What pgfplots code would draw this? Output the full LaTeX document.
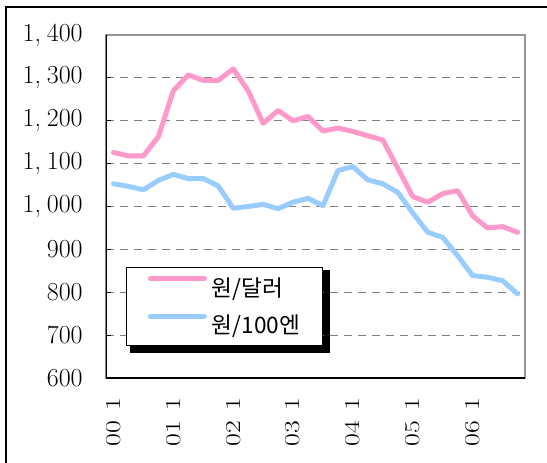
\documentclass[border=0pt]{standalone}
\usepackage{fontspec}
\usepackage{pgfplots}
\pgfplotsset{compat=1.18}
\usetikzlibrary{backgrounds}
\newfontfamily\cjk{Noto Sans CJK KR}
\definecolor{pinkline}{RGB}{255,153,204}
\definecolor{blueline}{RGB}{153,204,255}
\definecolor{gridgray}{RGB}{128,128,128}
\definecolor{boxgray}{RGB}{150,150,150}
\newcommand{\cs}{,\hspace{0.22em}}
\newcommand{\xl}[1]{\scalebox{1.31}[1]{\fontsize{16}{16}\selectfont #1\hspace{0.38em}1}}
\begin{document}
\begin{tikzpicture}
\begin{axis}[
  at={(79.5pt,63pt)}, anchor=south west,
  scale only axis, width=314.25pt, height=257.25pt,
  xmin=-0.5, xmax=27.5, ymin=600, ymax=1400,
  axis line style={draw=boxgray, line width=1.3pt},
  xtick={0,4,8,12,16,20,24},
  xticklabels={\xl{00},\xl{01},\xl{02},\xl{03},\xl{04},\xl{05},\xl{06}},
  major x tick style={draw=none},
  extra x ticks={-0.5,0.5,...,27.5},
  extra x tick labels={},
  extra x tick style={tick style={draw=black, line width=0.8pt}, major tick length=4.5pt},
  xtick pos=bottom, ytick pos=left, tick align=inside,
  xticklabel style={yshift=-11pt, rotate=90, anchor=east},
  ytick={600,700,...,1400},
  yticklabels={600,700,800,900,1\cs000,1\cs100,1\cs200,1\cs300,1\cs400},
  yticklabel style={xshift=-14pt, font=\fontsize{19.5}{19.5}\selectfont},
  ytick style={draw=black, line width=0.8pt}, major tick length=3.5pt,
  ymajorgrids, major grid style={draw=gridgray, dashed, dash pattern=on 6pt off 4.5pt, line width=0.75pt},
  legend image code/.code={\path[draw=none] (0pt,0pt) -- (47pt,0pt); \draw[#1] (2.9pt,6.8pt) -- (43.4pt,6.8pt);},
  legend style={name=leg, at={(rel axis cs:0.0477,0.3236)}, anchor=north west,
    draw=black, line width=0.8pt, fill=white,
    font=\cjk\fontsize{17}{17}\selectfont,
    inner xsep=15pt, inner ysep=4.5pt, row sep=6.3pt,
    nodes={inner xsep=2pt, inner ysep=3pt}},
  legend cell align=left,
]
\addplot[pinkline, line width=3.75pt, line join=round, line cap=round] coordinates {
(0,1126)(1,1118)(2,1118)(3,1163)(4,1270)(5,1307)(6,1294)(7,1294)(8,1321)(9,1270)
(10,1194)(11,1224)(12,1200)(13,1210)(14,1176)(15,1183)(16,1175)(17,1165)(18,1155)(19,1089)
(20,1023)(21,1010)(22,1030)(23,1037)(24,978)(25,950)(26,953)(27,940)};
\addlegendentry{원/달러}
\addplot[blueline, line width=3.75pt, line join=round, line cap=round] coordinates {
(0,1053)(1,1047)(2,1039)(3,1061)(4,1075)(5,1065)(6,1065)(7,1048)(8,996)(9,1000)
(10,1005)(11,995)(12,1010)(13,1019)(14,1002)(15,1084)(16,1093)(17,1062)(18,1053)(19,1033)
(20,985)(21,940)(22,928)(23,885)(24,839)(25,835)(26,827)(27,796)};
\addlegendentry{원/100엔}
\draw[black, line width=1.5pt] (rel axis cs:0,1) -- (rel axis cs:0,0) -- (rel axis cs:1,0);
\end{axis}
\begin{pgfonlayer}{background}
\fill[black] ([xshift=3pt,yshift=-5.25pt]leg.south west) rectangle ([xshift=5.25pt,yshift=-2.5pt]leg.north east);
\end{pgfonlayer}
\draw[black, line width=1.1pt] (4.5pt,-10pt) -- (4.5pt,341.25pt) -- (420pt,341.25pt);
\pgfresetboundingbox
\path[use as bounding box] (0pt,0pt) rectangle (410.25pt,346.5pt);
\end{tikzpicture}
\end{document}
